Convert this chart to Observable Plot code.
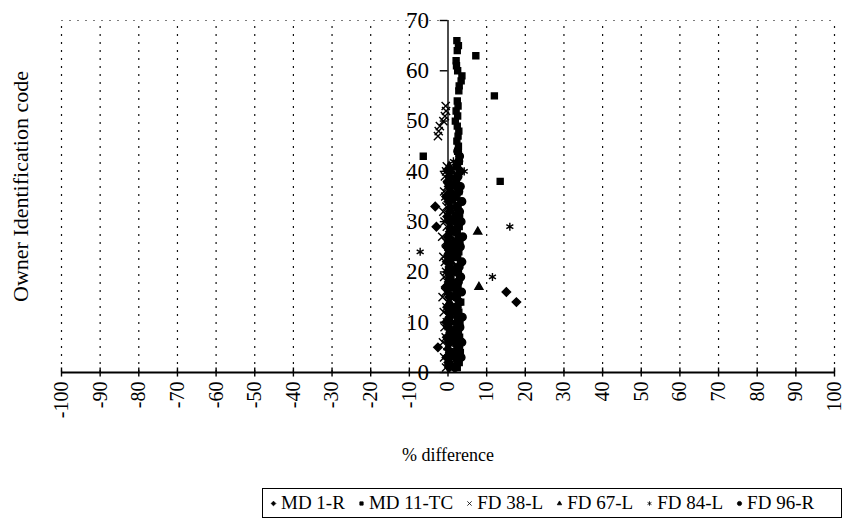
<!DOCTYPE html>
<html>
<head>
<meta charset="utf-8">
<script src="https://cdn.jsdelivr.net/npm/d3@7"></script>
<script src="https://cdn.jsdelivr.net/npm/@observablehq/plot@0.6"></script>
<style>
  html, body { margin: 0; padding: 0; background: #fff; }
  body { width: 848px; height: 520px; overflow: hidden; font-family: "Liberation Serif", "DejaVu Serif", serif; }
  #chart svg text { font-family: "Liberation Serif", "DejaVu Serif", serif; }
  #legend {
    position: absolute; left: 262px; top: 488px; width: 580px; height: 30px;
    border: 1px solid #000; box-sizing: border-box;
    display: flex; align-items: center; gap: 13px; padding-left: 7px;
    font-size: 19px; color: #000; white-space: nowrap;
  }
  #legend .item { display: flex; align-items: center; gap: 4px; }
  #legend svg { display: block; }
</style>
</head>
<body>
<div id="chart"></div>
<div id="legend"></div>
<script>
// ---- data ----
const seriesNames = ["MD 1-R", "MD 11-TC", "FD 38-L", "FD 67-L", "FD 84-L", "FD 96-R"];
const seriesSymbols = ["diamond2", "square2", "times", "triangle2", "asterisk", "circle"];

// owner identification codes 1..66 (index i -> code i+1)
const ownerIds = [1,2,3,4,5,6,7,8,9,10,11,12,13,14,15,16,17,18,19,20,21,22,23,24,25,26,27,28,29,30,
  31,32,33,34,35,36,37,38,39,40,41,42,43,44,45,46,47,48,49,50,51,52,53,54,55,56,57,58,59,60,
  61,62,63,64,65,66];

// % difference per owner code; null = not measured
const md1R = [0.3, 0.1, -0.4, 0.5, -2.6, 0.2, -0.3, 0.6, 0.0, -0.5,
  0.4, 0.1, -0.2, 17.7, 0.3, 15.1, -0.6, 0.2, 0.5, -0.1,
  0.4, -0.3, 0.1, 0.6, -0.4, 0.2, 0.0, 0.5, -3.0, 0.3,
  -0.2, 0.4, -3.3, 0.1, -0.5, 0.6, 0.2, -0.1, 0.3, 0.0];

const md11TC = [2.4, 2.9, 2.1, 3.2, 2.6, 2.2, 3.0, 2.7, 2.3, 3.1,
  2.5, 2.8, 2.0, 3.3, 2.4, 2.9, 2.6, 2.2, 3.0, 2.7,
  2.3, 3.2, 2.5, 2.8, 2.1, 3.1, 2.6, 2.4, 2.9, 2.2,
  3.0, 2.7, 2.5, 3.3, 2.3, 2.8, 2.6, 13.5, 2.4, 3.0,
  2.2, 2.9, -6.4, 2.5, 2.7, 2.3, 2.6, 2.8, 2.4, 1.9,
  2.5, 2.1, 2.6, 2.4, 12.0, 2.8, 2.9, 3.4, 3.6, 2.5,
  2.2, 2.1, 7.2, 2.4, 2.7, 2.3];

const fd38L = [-0.5, 0.2, -1.0, -0.2, 0.4, -1.3, -0.6, 0.1, -0.9, -0.3,
  0.3, -1.1, -0.4, 0.0, -1.4, -0.7, 0.2, -0.2, -1.0, -0.5,
  0.4, -0.8, -1.2, -0.1, 0.1, -0.6, -1.5, 0.3, -0.3, -0.9,
  0.0, -1.2, -0.4, 0.2, -0.7, -1.0, -0.2, 0.3, -0.8, -0.5,
  -0.3, null, null, null, null, null, -2.6, -2.4, -2.1, -1.2,
  -0.8, -0.5, -0.6];

const fd67L = [0.8, 0.2, 1.2, 0.5, 0.0, 1.0, 0.6, 1.4, 0.3, 0.9,
  0.1, 1.1, 0.7, 0.4, 1.3, 0.2, 8.0, 0.9, 0.5, 1.2,
  0.3, 0.8, 1.0, 0.1, 0.6, 1.4, 0.4, 7.7, 0.7, 1.1,
  0.2, 0.9, 0.5, 1.3, 0.0, 0.8, 1.1, 0.4, 0.6, 1.0, 0.3];

const fd84L = [1.5, 0.9, 2.1, 1.2, 1.8, 0.7, 2.4, 1.0, 1.6, 2.0,
  1.1, 1.9, 0.8, 2.3, 1.4, 1.7, 0.6, 2.2, 11.5, 1.3,
  1.8, 0.9, 2.0, -7.2, 1.5, 1.1, 2.4, 0.7, 16.0, 1.9,
  1.2, 2.2, 0.8, 1.6, 2.1, 1.0, 1.7, 2.5, 1.3, 4.2, 1.9, 1.4];

const fd96R = [1.8, 2.5, 3.4, 2.0, 2.8, 3.6, 1.6, 2.2, 3.1, 2.6,
  3.7, 1.9, 2.4, 3.0, 2.1, 3.5, 1.7, 2.7, 3.3, 2.0,
  2.9, 3.6, 1.8, 2.3, 3.2, 2.6, 3.8, 1.9, 2.5, 3.4,
  2.1, 3.0, 2.4, 3.6, 1.7, 2.8, 3.2, 2.0, 2.6, 3.1,
  2.3, 2.8, 3.0, 2.5];

const seriesValues = [md1R, md11TC, fd38L, fd67L, fd84L, fd96R];

// axis tick values
const xTicks = [-100,-90,-80,-70,-60,-50,-40,-30,-20,-10,0,10,20,30,40,50,60,70,80,90,100];
const yTicks = [0,10,20,30,40,50,60,70];

// ---- build table ----
const rows = [];
seriesNames.forEach((name, s) => {
  seriesValues[s].forEach((v, i) => {
    if (v !== null && v !== undefined) rows.push({series: name, id: ownerIds[i], value: v});
  });
});
const gridX = xTicks.filter(d => d !== 0);

const chart = Plot.plot({
  width: 848,
  height: 485,
  marginLeft: 61,
  marginRight: 14,
  marginTop: 20,
  marginBottom: 113,
  style: {fontFamily: "'Liberation Serif', serif", background: "#fff", color: "#000"},
  x: {domain: [-100, 100], ticks: xTicks},
  y: {domain: [0, 70], axis: null},
  symbol: {domain: seriesNames, range: seriesSymbols},
  marks: [
    Plot.ruleX(gridX, {y1: 0, y2: 70, stroke: "#111", strokeWidth: 1.2, strokeDasharray: "2,6"}),
    Plot.ruleY([70], {x1: -100, x2: 100, stroke: "#444", strokeWidth: 1, strokeDasharray: "2,6", strokeOpacity: 0.7}),
    Plot.ruleY([0], {x1: -100, x2: 100, stroke: "#000", strokeWidth: 1.8}),
    Plot.ruleX(xTicks, {y1: -0.9, y2: 0.9, stroke: "#000", strokeWidth: 1.4}),
    Plot.ruleX([0], {y1: 0, y2: 70, stroke: "#000", strokeWidth: 1.4}),
    Plot.ruleY(yTicks, {x1: -2, x2: 0, stroke: "#000", strokeWidth: 1.4}),
    Plot.text(yTicks, {x: 0, y: d => d, text: d => String(d), dx: -19, textAnchor: "end", fontSize: 23, fill: "#000"}),
    Plot.dot(rows, {x: "value", y: "id", symbol: "series", fill: "#000", stroke: "#000", strokeWidth: 1.4, r: 3.8}),
    Plot.axisX({ticks: xTicks, tickSize: 0, tickPadding: 9, tickRotate: -90, fontSize: 20, tickFormat: d => String(d), label: null}),
    Plot.text(["% difference"], {frameAnchor: "bottom", dy: 88, fontSize: 18, fill: "#000"}),
    Plot.text(["Owner Identification code"], {frameAnchor: "left", textAnchor: "middle", dx: -41, dy: -10, rotate: -90, fontSize: 22, fill: "#000"})
  ]
});
document.getElementById("chart").appendChild(chart);

// ---- legend ----
const legend = d3.select("#legend");
const symMap = {diamond2: d3.symbolDiamond2, square2: d3.symbolSquare2, times: d3.symbolTimes,
  triangle2: d3.symbolTriangle2, asterisk: d3.symbolAsterisk, circle: d3.symbolCircle};
seriesNames.forEach((name, s) => {
  const item = legend.append("div").attr("class", "item");
  const svg = item.append("svg").attr("width", 7).attr("height", 7).attr("viewBox", "-3.5 -3.5 7 7");
  svg.append("path").attr("d", d3.symbol(symMap[seriesSymbols[s]], 14)())
    .attr("fill", "#000").attr("stroke", "#000").attr("stroke-width", 0.8);
  item.append("span").text(name);
});
</script>
</body>
</html>
